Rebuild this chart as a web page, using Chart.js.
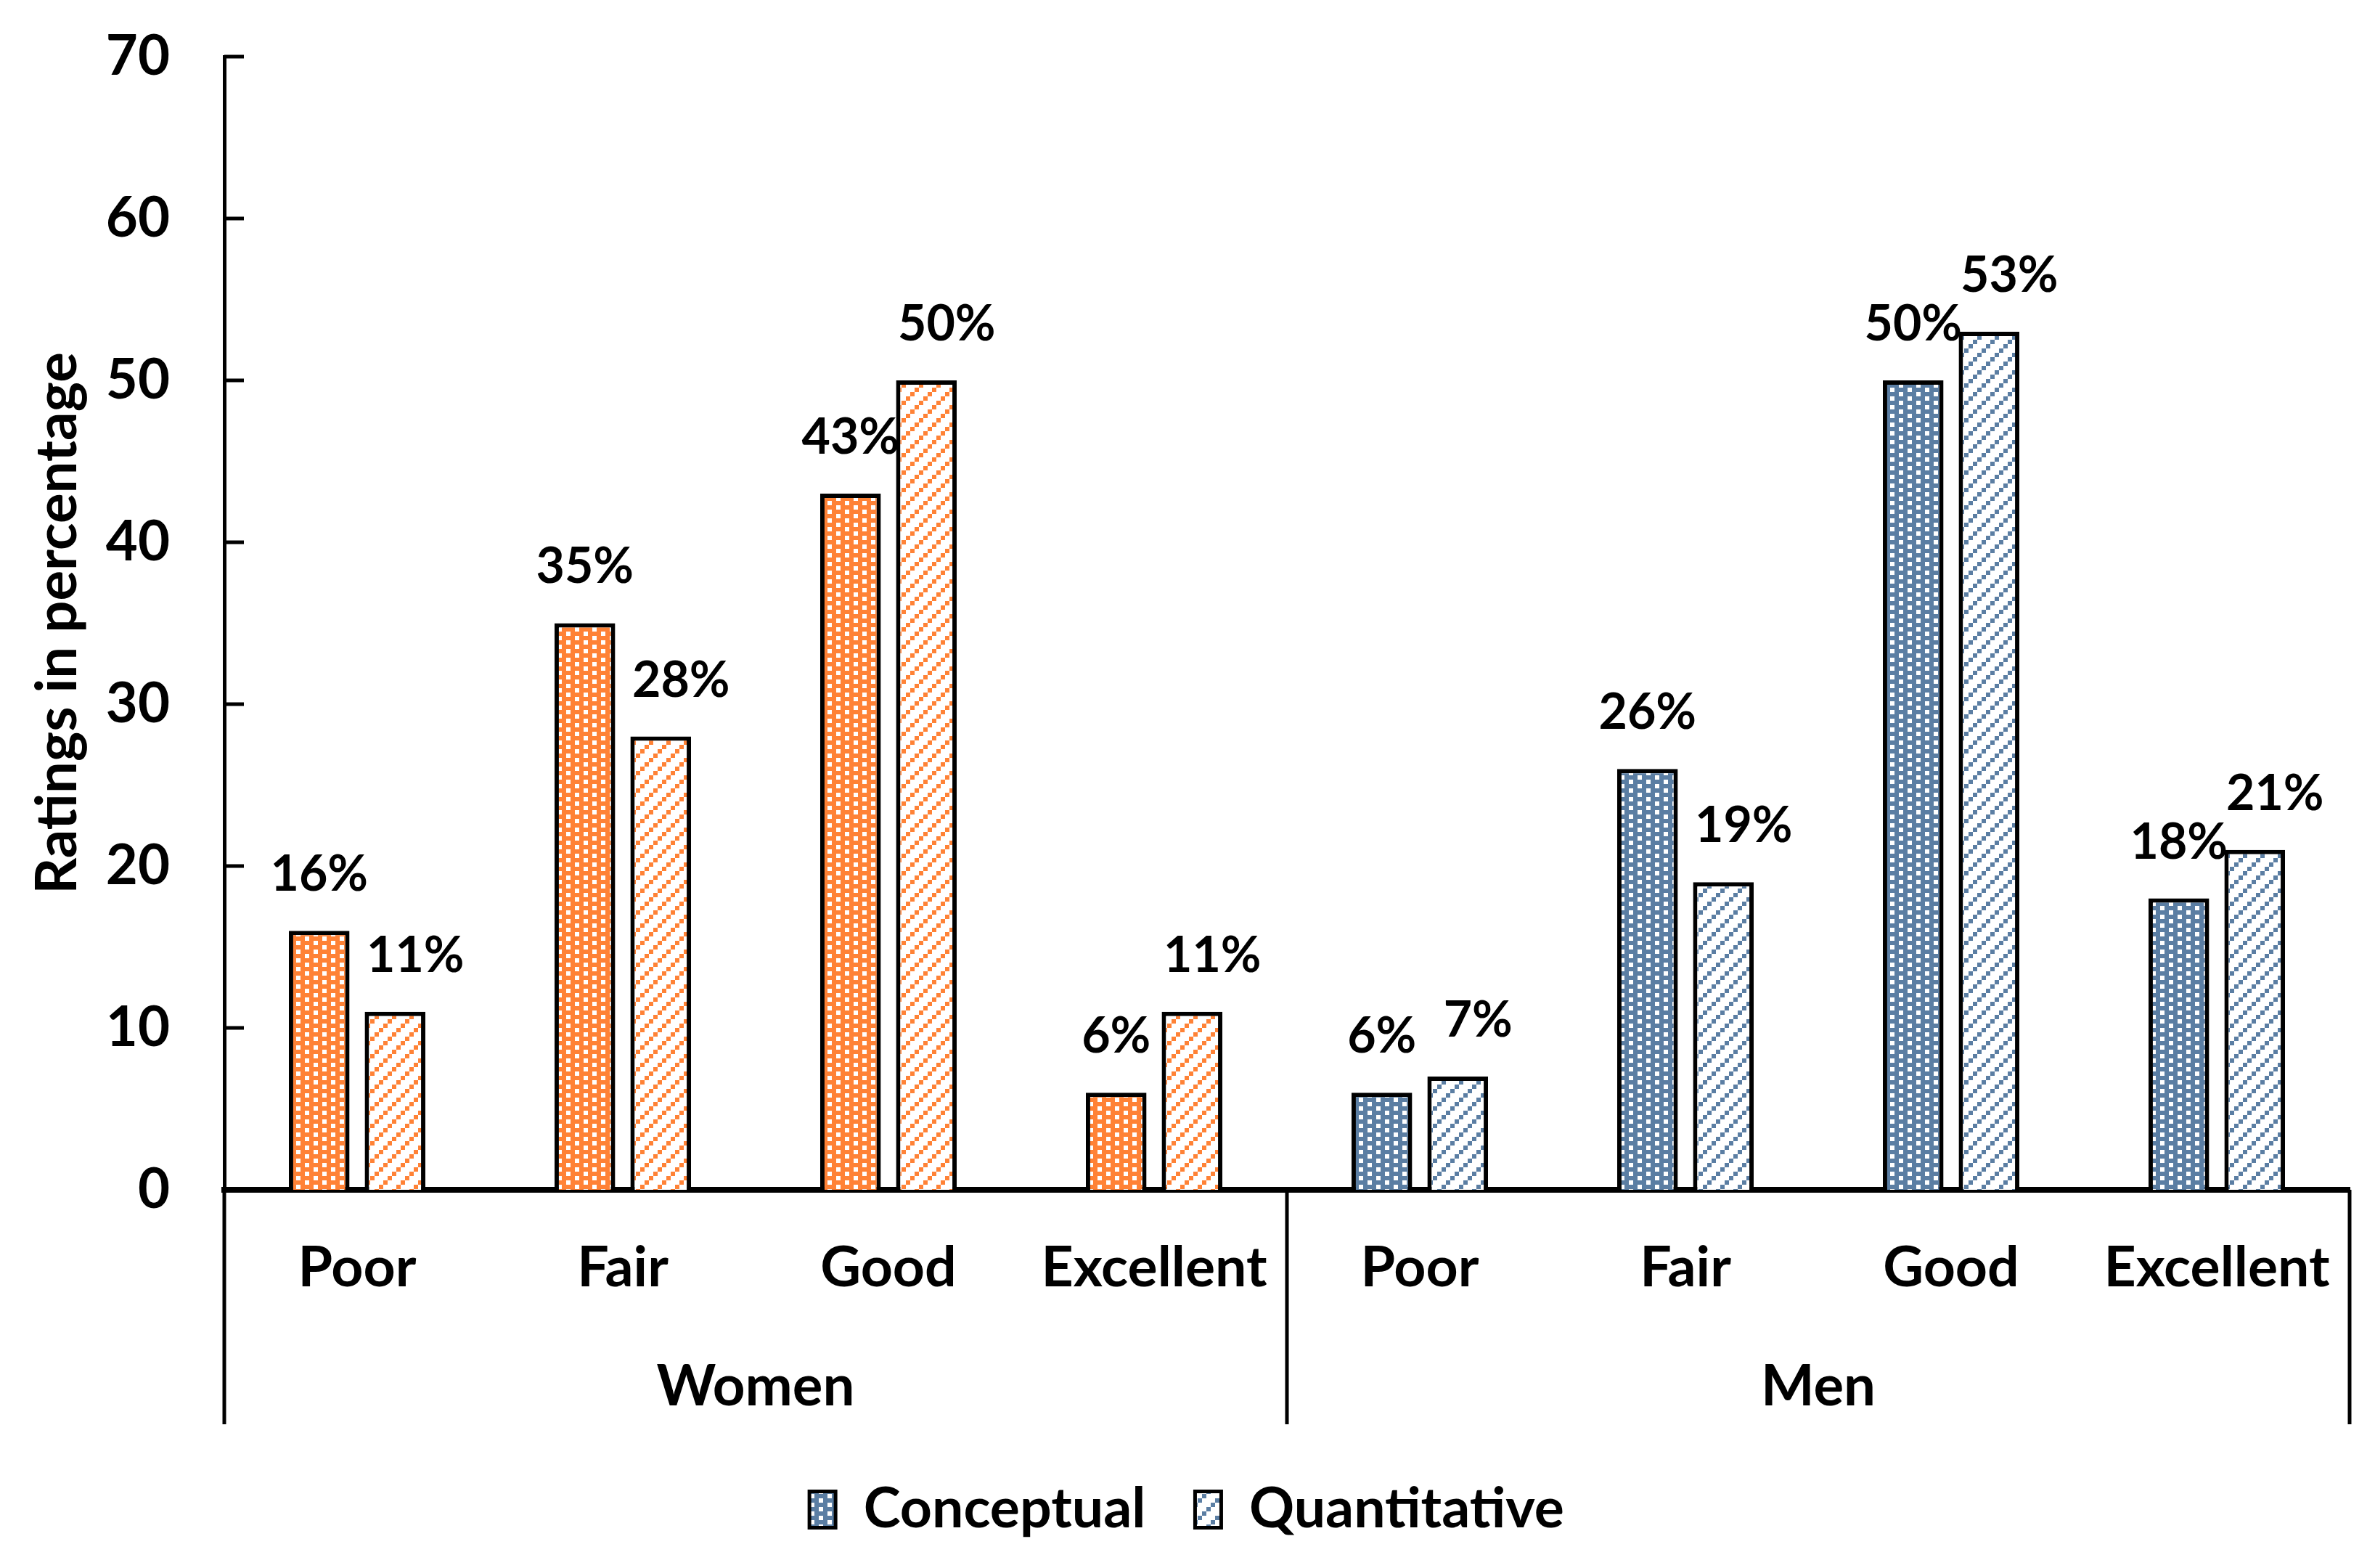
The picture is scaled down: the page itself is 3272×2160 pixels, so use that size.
<!DOCTYPE html>
<html>
<head>
<meta charset="utf-8">
<script src="https://cdn.jsdelivr.net/npm/chart.js@4.4.1/dist/chart.umd.min.js"></script>
<style>
    html, body { margin: 0; padding: 0; background: #fff; }
    #wrap { width: 3272px; height: 2160px; }
</style>
</head>
<body>
<div id="wrap"><canvas id="ratingsChart"></canvas></div>
<script>
const categories = ['Poor', 'Fair', 'Good', 'Excellent', 'Poor', 'Fair', 'Good', 'Excellent'];
const groups = ['Women', 'Men'];
const conceptual = [16, 35, 43, 6, 6, 26, 50, 18];
const quantitative = [11, 28, 50, 11, 7, 19, 53, 21];
const seriesNames = ['Conceptual', 'Quantitative'];

const orange = '#FF8236';
const blue = '#5B7EA3';
const font = 'Lato';

// white dots on colour
function dotPattern(color) {
    const c = document.createElement('canvas');
    c.width = 24; c.height = 12;
    const g = c.getContext('2d');
    g.fillStyle = color;
    g.fillRect(0, 0, 24, 12);
    g.fillStyle = '#fff';
    g.fillRect(0, 0, 6, 6);
    g.fillRect(12, 6, 6, 6);
    return g.createPattern(c, 'repeat');
}

// coloured dashed diagonals on white
function diagPattern(color) {
    const c = document.createElement('canvas');
    c.width = 24; c.height = 24;
    const g = c.getContext('2d');
    g.fillStyle = '#fff';
    g.fillRect(0, 0, 24, 24);
    g.fillStyle = color;
    g.fillRect(0, 18, 6, 6);
    g.fillRect(6, 12, 6, 6);
    g.fillRect(12, 6, 6, 6);
    g.fillRect(18, 0, 6, 6);
    return g.createPattern(c, 'repeat');
}

const dotFill = categories.map((c, i) => dotPattern(i < 4 ? orange : blue));
const diagFill = categories.map((c, i) => diagPattern(i < 4 ? orange : blue));
const legendFill = [dotPattern(blue), diagPattern(blue)];

// value labels, inward y ticks and the group separator lines
const extras = {
    id: 'extras',
    afterDatasetsDraw(chart) {
        const ctx = chart.ctx;
        const shift = [0, 28];
        ctx.save();
        ctx.font = 'bold 68px ' + font;
        ctx.fillStyle = '#000';
        ctx.textAlign = 'center';
        ctx.textBaseline = 'middle';
        chart.data.datasets.forEach((ds, d) => {
            chart.getDatasetMeta(d).data.forEach((bar, i) => {
                ctx.fillText(ds.data[i] + '%', bar.x + shift[d], bar.y - 77);
            });
        });
        ctx.restore();
    },
    afterDraw(chart) {
        const ctx = chart.ctx;
        const area = chart.chartArea;
        const y = chart.scales.y;
        const x = chart.scales.x;
        const x2 = chart.scales.x2;
        ctx.save();
        ctx.strokeStyle = '#000';
        ctx.lineWidth = 5;
        y.ticks.forEach((t, i) => {
            const py = y.getPixelForTick(i);
            ctx.beginPath();
            ctx.moveTo(area.left, py);
            ctx.lineTo(area.left + 27, py);
            ctx.stroke();
        });
        const mid = (x.getPixelForValue(3) + x.getPixelForValue(4)) / 2;
        const bottom = x2.bottom - 11;
        [area.left, mid, area.right].forEach(px => {
            ctx.beginPath();
            ctx.moveTo(px, area.bottom);
            ctx.lineTo(px, bottom);
            ctx.stroke();
        });
        ctx.restore();
    }
};

const data = {
    labels: categories,
    datasets: [
        {
            label: seriesNames[0],
            data: conceptual,
            backgroundColor: dotFill,
            borderColor: '#000',
            borderWidth: 6,
            categoryPercentage: 0.571,
            barPercentage: 0.8
        },
        {
            label: seriesNames[1],
            data: quantitative,
            backgroundColor: diagFill,
            borderColor: '#000',
            borderWidth: 6,
            categoryPercentage: 0.571,
            barPercentage: 0.8
        }
    ]
};

const config = {
    type: 'bar',
    data: data,
    plugins: [extras],
    options: {
        responsive: true,
        maintainAspectRatio: false,
        animation: false,
        layout: {
            padding: { left: 33, top: 78, right: 35, bottom: 32 }
        },
        plugins: {
            tooltip: { enabled: false },
            legend: {
                position: 'bottom',
                labels: {
                    color: '#000',
                    font: { family: font, size: 77, weight: 'bold' },
                    boxWidth: 36,
                    boxHeight: 50,
                    padding: 68,
                    generateLabels: chart => chart.data.datasets.map((ds, i) => ({
                        text: ds.label,
                        fillStyle: legendFill[i],
                        strokeStyle: '#000',
                        lineWidth: 5,
                        fontColor: '#000',
                        hidden: !chart.isDatasetVisible(i),
                        datasetIndex: i
                    }))
                }
            }
        },
        scales: {
            x: {
                z: 1,
                grid: { display: false, drawTicks: false },
                border: { display: true, color: '#000', width: 8 },
                ticks: {
                    color: '#000',
                    padding: 62,
                    maxRotation: 0,
                    autoSkip: false,
                    font: { family: font, size: 77, weight: 'bold' }
                },
                afterFit(scale) {
                    scale.height = 213;
                    scale.paddingLeft = 0;
                    scale.paddingRight = 0;
                }
            },
            x2: {
                type: 'category',
                position: 'bottom',
                labels: groups,
                offset: true,
                grid: { display: false, drawTicks: false },
                border: { display: false },
                ticks: {
                    color: '#000',
                    padding: 12,
                    maxRotation: 0,
                    font: { family: font, size: 78, weight: 'bold' }
                },
                afterFit(scale) {
                    scale.height = 121;
                    scale.paddingLeft = 0;
                    scale.paddingRight = 0;
                }
            },
            y: {
                min: 0,
                max: 70,
                grid: { display: false, drawTicks: false },
                border: { display: true, color: '#000', width: 5 },
                ticks: {
                    stepSize: 10,
                    color: '#000',
                    padding: 75,
                    font: { family: font, size: 76, weight: 'bold' }
                },
                title: {
                    display: true,
                    text: 'Ratings in percentage',
                    color: '#000',
                    padding: { top: 0, bottom: 0 },
                    font: { family: font, size: 78, weight: 'bold' }
                },
                afterFit(scale) {
                    scale.width = 276;
                    scale.paddingTop = 0;
                    scale.paddingBottom = 0;
                }
            }
        }
    }
};

const ctx = document.getElementById('ratingsChart').getContext('2d');
new Chart(ctx, config);
</script>
</body>
</html>
